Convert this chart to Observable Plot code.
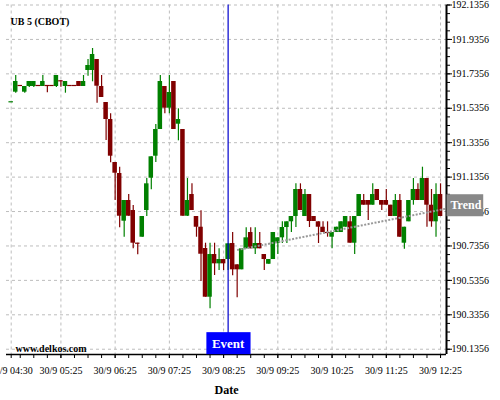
<!DOCTYPE html>
<html><head><meta charset="utf-8">
<script src="https://cdn.jsdelivr.net/npm/d3@7"></script>
<script src="https://cdn.jsdelivr.net/npm/@observablehq/plot@0.6"></script>
<style>
html,body{margin:0;padding:0;background:#fff;}
#chart{width:500px;height:400px;overflow:hidden;}
</style></head><body><div id="chart"></div>
<script>
const title = "UB 5 (CBOT)";
const source = "www.delkos.com";
const dateLabel = "Date";
const dayLabel = "30/9";
const firstBar = "04:30";
const barMinutes = 5;

const open = [191.5732,191.6290,191.6679,191.6290,191.6621,191.6621,191.6679,191.6621,191.6679,191.6679,
191.6621,191.6952,191.6621,191.6679,191.6679,191.6911,191.6621,191.7551,191.7551,191.8190,
191.6621,191.5691,191.4703,191.2205,191.1566,190.8794,190.9997,190.9415,190.7516,190.7864,
190.9415,191.1293,191.2571,191.4122,191.6621,191.5360,191.6911,191.4430,191.4122,190.9084,
191.0345,190.9067,190.8445,190.7208,190.4378,190.6859,190.6318,190.6568,190.6568,190.7498,
190.6260,190.5970,190.7190,190.8137,190.7190,190.7498,190.6859,190.6295,190.6568,190.7498,
190.7829,190.8428,190.8759,190.9067,191.0636,190.9067,191.0345,190.9067,190.8759,190.8445,
190.8137,190.7864,190.8137,190.8137,190.8445,190.8759,190.7516,190.9067,190.9997,190.9997,
190.9724,191.0636,190.9997,190.9997,190.9724,190.9067,190.9997,190.7516,190.8759,190.9997,
191.0636,190.9997,191.1275,190.9724,190.8759,191.0345];
const high = [191.5732,191.7260,191.6679,191.6621,191.6911,191.6911,191.6679,191.7260,191.6679,191.6679,
191.7260,191.6952,191.6911,191.6679,191.6679,191.6911,191.7260,191.8190,191.8829,191.8190,
191.7260,191.5691,191.5035,191.2205,191.1932,190.9997,191.0345,190.9706,190.7516,190.9067,
191.1275,191.2536,191.4413,191.7260,191.6621,191.7260,191.6911,191.5325,191.4122,191.1275,
191.0967,190.9067,190.9398,190.7516,190.7516,190.7516,190.7190,190.6568,190.7481,190.8137,
190.6260,190.7190,190.8410,190.8410,190.8410,190.8137,190.6859,190.6568,190.8137,190.7829,
190.8759,190.8759,190.9067,191.0967,191.0967,191.0636,191.0345,190.9067,190.8759,190.8759,
190.8759,190.8137,190.8445,190.8759,190.9067,190.9067,190.9067,191.0345,191.0345,190.9997,
191.0967,191.0636,190.9997,191.0636,190.9724,191.0345,191.0345,190.8445,190.9997,191.1275,
191.0967,191.1932,191.1275,191.0636,191.0967,191.0967];
const low = [191.5732,191.6232,191.6679,191.6232,191.6563,191.6563,191.6679,191.6621,191.6255,191.6679,
191.6563,191.6580,191.6232,191.6679,191.6679,191.6621,191.6621,191.7219,191.6894,191.5651,
191.5982,191.3483,191.2187,190.9997,190.8410,190.7864,190.9084,190.7190,190.6841,190.7864,
190.9067,191.0618,191.2205,191.4122,191.5035,191.5035,191.4122,191.3466,190.9084,190.9067,
190.9415,190.7864,190.5290,190.4378,190.3704,190.5639,190.5929,190.5929,190.5929,190.5621,
190.4343,190.5970,190.7190,190.7190,190.6859,190.7190,190.5929,190.6295,190.6568,190.6859,
190.7498,190.7498,190.8137,190.8428,190.9415,190.9067,190.8428,190.8777,190.7498,190.8137,
190.7864,190.7190,190.8137,190.8137,190.8445,190.7516,190.6859,190.9067,190.9724,190.8835,
190.9724,190.9997,190.9415,190.9724,190.9067,190.9067,190.7864,190.7167,190.8759,190.9724,
190.9997,190.9997,190.8445,190.8445,190.7864,190.9067];
const close = [191.5732,191.6911,191.6679,191.6621,191.6911,191.6911,191.6679,191.6911,191.6679,191.6679,
191.7260,191.6952,191.6911,191.6679,191.6679,191.6621,191.6911,191.7841,191.8480,191.6638,
191.5982,191.4703,191.2571,191.1583,190.9084,190.9997,190.9084,190.7516,190.7516,190.9067,
191.0967,191.2536,191.4122,191.6911,191.5360,191.6272,191.4122,191.4703,190.9084,190.9997,
190.9415,190.8445,190.6876,190.4378,190.6859,190.6318,190.6568,190.6318,190.7481,190.5970,
190.5970,190.7190,190.7829,190.7190,190.7498,190.7190,190.6568,190.6568,190.8137,190.7829,
190.8428,190.8759,190.9067,191.0636,190.9415,191.0345,190.8777,190.8777,190.8445,190.8137,
190.8137,190.8137,190.8445,190.8759,190.9067,190.7516,190.9067,191.0345,190.9724,190.9724,
191.0345,190.9997,190.9724,190.9724,190.9067,190.9997,190.7864,190.8445,190.9997,191.0636,
190.9997,191.1275,190.9724,190.8759,191.0345,190.9067];

const xTickLabels = ["04:30","05:25","06:25","07:25","08:25","09:25","10:25","11:25","12:25"];
const yTickLabels = ["190.1356","190.3356","190.5356","190.7356","190.9356","191.1356","191.3356","191.5356","191.7356","191.9356","192.1356"];

const eventTime = "08:30";
const eventLabel = "Event";
const trendTimes = ["08:40","12:30"];
const trendValues = [190.712, 190.951];
const trendLabel = "Trend";

// helpers
const T = (s, sec = 0) => { const [h, m] = s.split(":").map(Number); return new Date(Date.UTC(2016, 8, 30, h, m, sec)); };
const fmt = d3.utcFormat("%H:%M");
const xDomain = [T("04:24", 48), T("12:31", 36)];
const yDomain = [190.105, 192.1356];

const t0 = T(firstBar);
const candles = open.map((o, i) => {
  const c = close[i];
  const up = c > o || (c === o && (i === 0 || c > close[i - 1]));
  const time = new Date(+t0 + i * barMinutes * 60000);
  return {time, open: o, high: high[i], low: low[i], close: c, up,
          x1: new Date(+time - barMinutes * 30000), x2: new Date(+time + barMinutes * 30000)};
});
const GREEN = "#008000", RED = "#800000";
const col = d => d.up ? GREEN : RED;

const xTicks = xTickLabels.map(s => T(s));
const yTicks = yTickLabels.map(Number);
const xMinor = d3.range(+T("04:40"), +T("12:30"), 15 * 60000).map(v => new Date(v));
const yMinor = d3.range(0, 41).map(k => +(190.1356 + k * 0.05).toFixed(4)).filter(v => v >= yDomain[0] && v <= yDomain[1]);
const trend = trendTimes.map((s, i) => ({time: T(s), value: trendValues[i]}));

const plot = Plot.plot({
  width: 500, height: 400,
  marginLeft: 6, marginRight: 54, marginTop: 4.5, marginBottom: 46,
  style: {fontFamily: "Liberation Serif", fontSize: "10px", background: "#fff", color: "#000", overflow: "hidden"},
  x: {type: "utc", domain: xDomain, axis: null},
  y: {domain: yDomain, axis: null},
  marks: [
    Plot.gridX(xTicks, {stroke: "#bdbdbd", strokeOpacity: 1, strokeDasharray: "3,3"}),
    Plot.gridY(yTicks, {stroke: "#bdbdbd", strokeOpacity: 1, strokeDasharray: "3,3"}),
    Plot.ruleX(candles, {x: "time", y1: "low", y2: "high", stroke: col, strokeWidth: 1.2}),
    Plot.rect(candles, {x1: "x1", x2: "x2", y1: "open", y2: "close", fill: col}),
    Plot.ruleY(candles.filter(d => d.open === d.close), {x1: "x1", x2: "x2", y: "close", stroke: col, strokeWidth: 1.2}),
    Plot.line(trend, {x: "time", y: "value", stroke: "#999999", strokeWidth: 2, strokeDasharray: "2,1.5", strokeLinecap: "butt"}),
    Plot.ruleX([T(eventTime)], {stroke: "#0000cc", strokeWidth: 1.2}),
    Plot.ruleX([xDomain[1]], {stroke: "#000", strokeWidth: 2}),
    Plot.ruleY([yDomain[0]], {stroke: "#000", strokeWidth: 1.7}),
    Plot.axisX(xMinor, {tickSize: 4, tickFormat: () => "", label: null}),
    Plot.axisX(xTicks, {tickSize: 4, tickPadding: 8, tickFormat: d => `${dayLabel} ${fmt(d)}`, fontSize: 10, label: null}),
    Plot.axisY(yMinor, {anchor: "right", tickSize: 3, tickFormat: () => "", label: null}),
    Plot.axisY(yTicks, {anchor: "right", tickSize: 5, tickPadding: 0, tickFormat: d => d.toFixed(4), fontSize: 10, label: null}),
    Plot.text([title], {frameAnchor: "top-left", dx: 4, dy: 16.5, lineAnchor: "middle", textAnchor: "start", fontWeight: "bold", fontSize: 10}),
    Plot.text([source], {frameAnchor: "bottom-left", dx: 9, dy: -5.5, lineAnchor: "middle", textAnchor: "start", fontWeight: "bold", fontSize: 10}),
    Plot.text([dateLabel], {frameAnchor: "bottom", dy: 36, lineAnchor: "middle", fontWeight: "bold", fontSize: 12}),
    Plot.text([eventLabel], {x: () => T(eventTime), frameAnchor: "bottom", dy: -11, lineAnchor: "middle", fill: "white", fontWeight: "bold", fontSize: 13}),
    Plot.text([trendLabel], {x: () => xDomain[1], y: () => trendValues[1], dx: 4, dy: -3.5, lineAnchor: "middle", textAnchor: "start", fill: "white", fontWeight: "bold", fontSize: 12})
  ]
});
document.getElementById("chart").appendChild(plot);

// label boxes behind "Event" and "Trend"
const boxes = {[eventLabel]: {fill: "#0000ff", padL: 5.5, padR: 5.5, h: 22}, [trendLabel]: {fill: "#888888", padL: 4, padR: 1.5, h: 22}};
d3.select(plot).selectAll("text").each(function() {
  const spec = boxes[this.textContent];
  if (!spec) return;
  const b = this.getBBox();
  const cy = b.y + b.height / 2;
  const r = document.createElementNS("http://www.w3.org/2000/svg", "rect");
  r.setAttribute("x", b.x - spec.padL);
  r.setAttribute("width", b.width + spec.padL + spec.padR);
  r.setAttribute("y", cy - spec.h / 2);
  r.setAttribute("height", spec.h);
  r.setAttribute("fill", spec.fill);
  const tr = this.getAttribute("transform");
  if (tr) r.setAttribute("transform", tr);
  this.parentNode.insertBefore(r, this);
});
</script></body></html>
